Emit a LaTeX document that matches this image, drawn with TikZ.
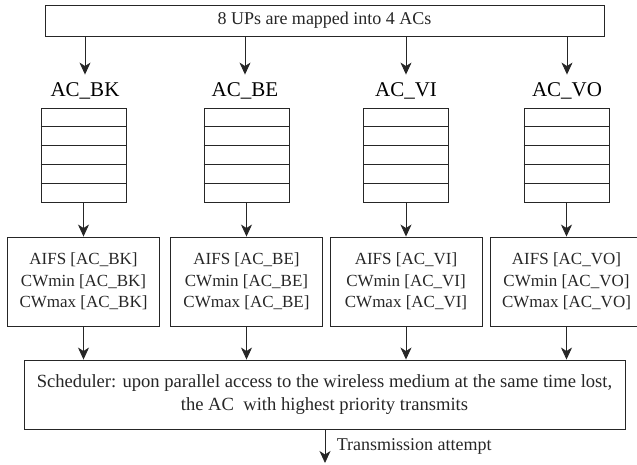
\documentclass[tikz,border=0pt]{standalone}
\usepackage{fontspec}
\setmainfont{Liberation Serif}
\usetikzlibrary{arrows.meta,calc}

\tikzset{
  line/.style={line width=0.9pt, black!85},
  flow/.style={line, -{Stealth[length=12pt,width=11pt,inset=3.5pt]}},
  mapbox/.style={draw, line, minimum width=559pt, minimum height=31pt, inner sep=0pt,
    font=\fontsize{18}{22}\selectfont},
  aclabel/.style={font=\fontsize{21}{25}\selectfont, anchor=base},
  queue/.style={draw, line, minimum width=85pt, minimum height=94pt, inner sep=0pt},
  parbox/.style={draw, line, minimum width=152pt, minimum height=89pt, inner sep=0pt,
    align=center, font=\fontsize{17}{21.5}\selectfont},
  schedbox/.style={draw, line, minimum width=601pt, minimum height=69pt, inner sep=0pt,
    align=center, font=\fontsize{18.6}{23.5}\selectfont},
}

\begin{document}
\begin{tikzpicture}[x=1pt,y=-1pt]
  \useasboundingbox (0,0) rectangle (637,464);

  \node[mapbox] (map) at (324.5,20.5) {8 UPs are mapped into 4 ACs};

  % access categories
  \node[aclabel] (lbk) at (85,96) {AC\_BK};
  \node[aclabel] (lbe) at (245,96) {AC\_BE};
  \node[aclabel] (lvi) at (406,96) {AC\_VI};
  \node[aclabel] (lvo) at (567,96) {AC\_VO};

  \node[queue] (qbk) at (83.5,155) {};
  \node[queue] (qbe) at (246.5,155) {};
  \node[queue] (qvi) at (406,155) {};
  \node[queue] (qvo) at (566.5,155) {};

  \node[parbox] (pbk) at (83.5,281.5) {AIFS [AC\_BK]\\CWmin [AC\_BK]\\CWmax [AC\_BK]};
  \node[parbox] (pbe) at (246.5,281.5) {AIFS [AC\_BE]\\CWmin [AC\_BE]\\CWmax [AC\_BE]};
  \node[parbox] (pvi) at (406,281.5) {AIFS [AC\_VI]\\CWmin [AC\_VI]\\CWmax [AC\_VI]};
  \node[parbox] (pvo) at (566.5,281.5) {AIFS [AC\_VO]\\CWmin [AC\_VO]\\CWmax [AC\_VO]};

  \node[schedbox] (sched) at (324.5,394.5) {Scheduler: upon parallel access to the wireless medium at the same time lost,\\the AC~ with highest priority transmits};
  \coordinate (out) at (325,463);

  % queue slots
  \foreach \q in {qbk,qbe,qvi,qvo}
    \foreach \i in {1,...,4}
      \draw[line] ($(\q.north west)!\i/5!(\q.south west)$) -- ($(\q.north east)!\i/5!(\q.south east)$);

  % arrows
  \foreach \ac in {bk,be,vi,vo} {
    \draw[flow] (map.south -| l\ac) -- ([yshift=4pt]l\ac.north);
    \draw[flow] (q\ac.south) -- (p\ac.north);
    \draw[flow] (p\ac.south) -- (sched.north -| p\ac);
  }
  \draw[flow] (sched.south -| out) -- (out)
    node[midway, right, xshift=8pt, font=\fontsize{18}{22}\selectfont] {Transmission attempt};
\end{tikzpicture}
\end{document}
